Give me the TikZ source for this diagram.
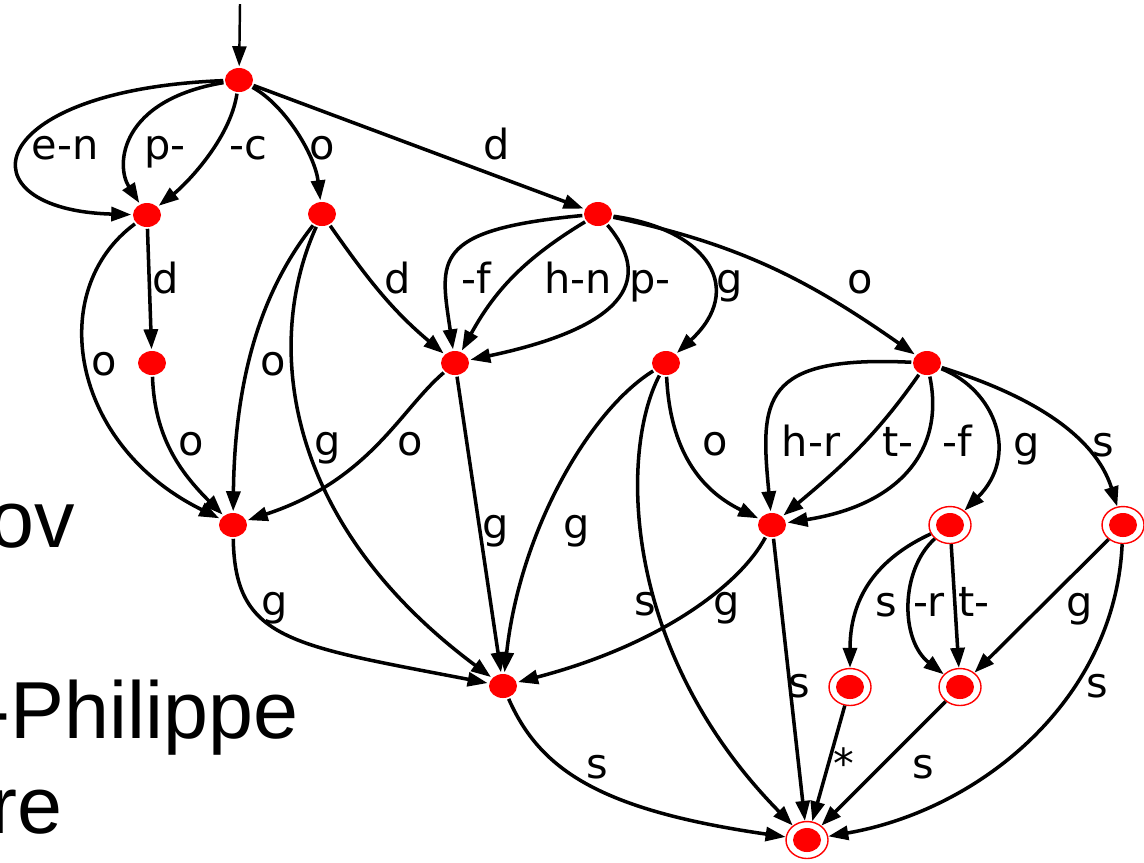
\documentclass[tikz,border=0pt]{standalone}
\usepackage{fontspec}
\setmainfont{DejaVu Sans}
\newfontfamily\slidefont{Liberation Sans}
\usetikzlibrary{shapes,arrows.meta}
\tikzstyle{state} = [fill=red, ellipse, inner sep=0pt, minimum width=0.28cm, minimum height=0.24cm]
\tikzstyle{accept} = [draw=red, line width=0.4pt, fill=white, ellipse, inner sep=0pt,
  minimum width=0.42cm, minimum height=0.37cm,
  path picture={\fill[red] (path picture bounding box.center) ellipse (0.14cm and 0.12cm);}]
\tikzstyle{lbl} = [anchor=base, inner sep=0pt, font=\fontsize{11.8pt}{14pt}\selectfont]
\tikzstyle{slide} = [anchor=base west, inner sep=0pt, font=\slidefont\fontsize{23pt}{27pt}\selectfont]

\pgfdeclareradialshading{slidebg}{\pgfpoint{0bp}{0bp}}{color(0bp)=(white); color(13bp)=(white); color(22bp)=(black!15); color(50bp)=(black!15)}

\begin{document}
\begin{tikzpicture}[>={Triangle[length=0.2cm,width=0.14cm]}, line width=1pt]
    \useasboundingbox (0,0) rectangle (11.44,-8.62);

    % Slide background and the text behind the graph
    \begin{scope}
        \clip (0,0) rectangle (11.44,-8.62);
        \shade[shading=slidebg] (3,-5.5) circle (20cm);
        \node[slide] (t1) at (-0.12,-5.47) {ov};
        \node[slide] (t2) at (-0.18,-7.38) {-Philippe};
        \node[slide] (t3) at (-0.11,-8.33) {re};
    \end{scope}

    % Placing the states
    \coordinate (start) at (2.40,-0.04);
    \node[state] (q0) at (2.39,-0.80) {};
    \node[state] (q1) at (1.47,-2.15) {};
    \node[state] (q2) at (3.22,-2.14) {};
    \node[state] (q3) at (5.98,-2.14) {};
    \node[state] (q4) at (1.52,-3.63) {};
    \node[state] (q5) at (4.55,-3.63) {};
    \node[state] (q6) at (6.66,-3.63) {};
    \node[state] (q7) at (9.27,-3.63) {};
    \node[state] (q8) at (2.33,-5.25) {};
    \node[state] (q9) at (7.72,-5.25) {};
    \node[accept] (q10) at (9.50,-5.25) {};
    \node[accept] (q11) at (11.23,-5.25) {};
    \node[state] (q12) at (5.03,-6.86) {};
    \node[accept] (q13) at (8.50,-6.87) {};
    \node[accept] (q14) at (9.60,-6.87) {};
    \node[accept] (q15) at (8.07,-8.40) {};

    % Connecting the states
    \draw[->, line width=0.7pt] (start) -- (q0);
    \draw[->] (q0) .. controls (-0.2,-0.9) and (-0.4,-2.1) .. (q1) node[lbl] at (0.65,-1.59) {e-n};
    \draw[->] (q0) .. controls (1.2,-1.0) and (1.15,-1.65) .. (q1) node[lbl] at (1.65,-1.59) {p-};
    \draw[->] (q0) .. controls (2.3,-1.4) and (1.85,-1.85) .. (q1) node[lbl] at (2.48,-1.59) {-c};
    \draw[->] (q0) .. controls (2.85,-1.05) and (3.15,-1.55) .. (q2) node[lbl] at (3.22,-1.59) {o};
    \draw[->] (q0) -- (q3) node[lbl] at (4.97,-1.59) {d};

    \draw[->] (q1) -- (q4) node[lbl] at (1.66,-2.93) {d};
    \draw[->] (q1) .. controls (0.45,-2.9) and (0.7,-4.45) .. (q8) node[lbl] at (1.04,-3.75) {o};
    \draw[->] (q4) to[out=-88, in=135] (q8) node[lbl] at (1.91,-4.55) {o};

    \draw[->] (q2) to[out=-55, in=140] (q5) node[lbl] at (3.98,-2.93) {d};
    \draw[->] (q2) .. controls (2.7,-2.8) and (2.35,-3.6) .. (q8) node[lbl] at (2.73,-3.75) {o};
    \draw[->] (q2) .. controls (2.65,-3.4) and (2.8,-5.2) .. (q12) node[lbl] at (3.28,-4.55) {g};

    \draw[->] (q3) .. controls (4.3,-2.3) and (4.4,-2.6) .. (q5) node[lbl] at (4.76,-2.93) {-f};
    \draw[->] (q3) to[bend right=15] (q5) node[lbl] at (5.78,-2.93) {h-n};
    \draw[->] (q3) .. controls (6.5,-2.75) and (6.35,-3.25) .. (q5) node[lbl] at (6.50,-2.93) {p-};
    \draw[->] (q3) .. controls (7.1,-2.3) and (7.45,-2.9) .. (q6) node[lbl] at (7.30,-2.93) {g};
    \draw[->] (q3) to[out=-12, in=145] (q7) node[lbl] at (8.60,-2.93) {o};

    \draw[->] (q5) .. controls (4.0,-4.1) and (3.7,-4.8) .. (q8) node[lbl] at (4.10,-4.55) {o};
    \draw[->] (q5) -- (q12) node[lbl] at (4.96,-5.38) {g};

    \draw[->] (q6) .. controls (5.9,-4.1) and (5.2,-5.3) .. (q12) node[lbl] at (5.77,-5.38) {g};
    \draw[->] (q6) .. controls (6.2,-4.5) and (6.2,-6.5) .. (q15) node[lbl] at (6.45,-6.15) {s};
    \draw[->] (q6) .. controls (6.7,-4.5) and (7.0,-4.9) .. (q9) node[lbl] at (7.15,-4.55) {o};

    \draw[->] (q7) .. controls (7.6,-3.55) and (7.6,-4.0) .. (q9) node[lbl] at (8.11,-4.56) {h-r};
    \draw[->] (q7) to[out=-125, in=40] (q9) node[lbl] at (8.98,-4.56) {t-};
    \draw[->] (q7) .. controls (9.45,-4.5) and (9.0,-5.05) .. (q9) node[lbl] at (9.57,-4.56) {-f};
    \draw[->] (q7) .. controls (9.95,-3.9) and (10.2,-4.55) .. (q10) node[lbl] at (10.27,-4.56) {g};
    \draw[->] (q7) .. controls (10.3,-3.95) and (10.95,-4.35) .. (q11) node[lbl] at (11.03,-4.56) {s};

    \draw[->] (q8) .. controls (2.35,-6.4) and (2.9,-6.45) .. (q12) node[lbl] at (2.75,-6.15) {g};
    \draw[->] (q9) .. controls (7.4,-5.85) and (6.6,-6.45) .. (q12) node[lbl] at (7.27,-6.15) {g};
    \draw[->] (q9) -- (q15) node[lbl] at (7.99,-6.97) {s};

    \draw[->] (q10) .. controls (8.85,-5.55) and (8.5,-5.9) .. (q13) node[lbl] at (8.86,-6.16) {s};
    \draw[->] (q10) .. controls (9.0,-5.7) and (9.0,-6.4) .. (q14) node[lbl] at (9.29,-6.16) {-r};
    \draw[->] (q10) -- (q14) node[lbl] at (9.74,-6.16) {t-};
    \draw[->] (q11) -- (q14) node[lbl] at (10.80,-6.16) {g};
    \draw[->] (q11) .. controls (11.15,-7.0) and (9.8,-8.1) .. (q15) node[lbl] at (10.97,-6.97) {s};

    \draw[->] (q12) .. controls (5.4,-7.7) and (6.0,-8.1) .. (q15) node[lbl] at (5.97,-7.78) {s};
    \draw[->] (q13) -- (q15) node[lbl] at (8.44,-7.78) {*};
    \draw[->] (q14) -- (q15) node[lbl] at (9.23,-7.78) {s};
\end{tikzpicture}
\end{document}
